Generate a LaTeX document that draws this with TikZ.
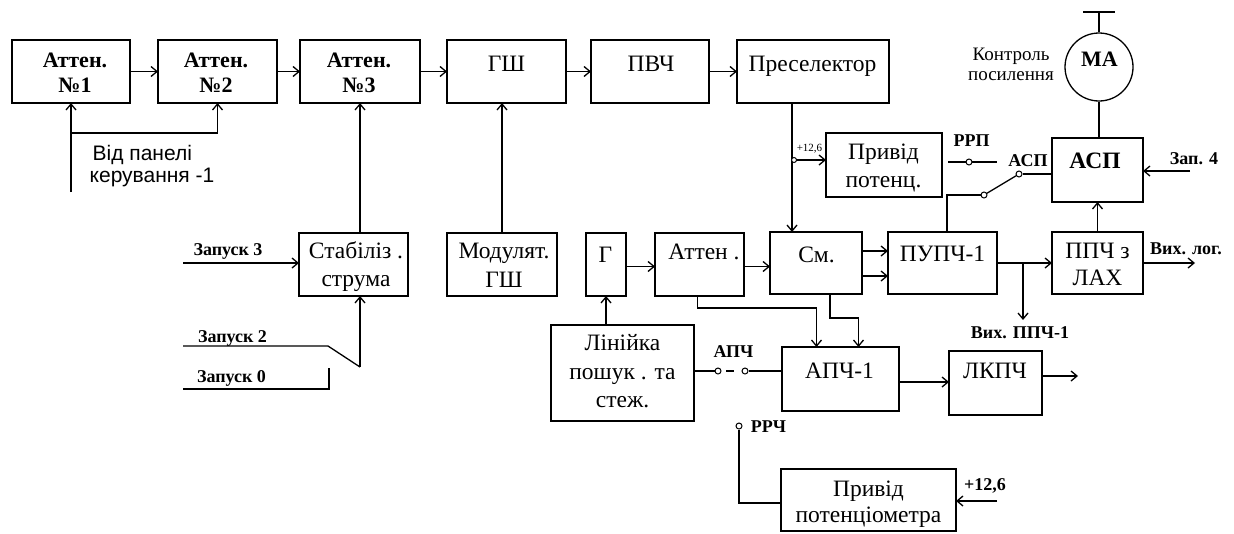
\documentclass[tikz,border=0pt]{standalone}
\usepackage{fontspec}
\setmainfont{Liberation Serif}
\newfontfamily\panelsans{Liberation Sans}
\usetikzlibrary{arrows.meta,calc}
\begin{document}
\begin{tikzpicture}[x=1pt,y=-1pt,line width=1.3pt,
  box/.style={draw,inner sep=0pt,outer sep=0pt},
  arr/.style={-{Straight Barb[length=6pt,width=10pt]}},
  contact/.style={circle,draw,fill=white,inner sep=0pt,minimum size=6pt,line width=1pt},
  rt/.style={inner sep=0pt,align=center,font=\fontsize{23.5}{28}\selectfont},
  bt/.style={inner sep=0pt,align=center,font=\bfseries\fontsize{22}{25}\selectfont},
  lab/.style={inner sep=0pt,anchor=base,font=\bfseries\fontsize{18}{20}\selectfont}]
\useasboundingbox (0,0) rectangle (1234,533);
\fill[white] (0,0) rectangle (1234,533);

% ---------- boxes ----------
\node[box,minimum width=118pt,minimum height=63pt] (a1) at (71,71.5) {};
\node[box,minimum width=119pt,minimum height=63pt] (a2) at (217.5,71.5) {};
\node[box,minimum width=120pt,minimum height=63pt] (a3) at (360,71.5) {};
\node[box,minimum width=119pt,minimum height=63pt] (gsh) at (506.5,71.5) {};
\node[box,minimum width=118pt,minimum height=63pt] (pvch) at (650,71.5) {};
\node[box,minimum width=152pt,minimum height=63pt] (pres) at (813,71.5) {};
\node[box,minimum width=109pt,minimum height=63pt] (stab) at (353.5,264.5) {};
\node[box,minimum width=110pt,minimum height=63pt] (mod) at (502,264.5) {};
\node[box,minimum width=40pt,minimum height=63pt] (g) at (606,264.5) {};
\node[box,minimum width=89pt,minimum height=63pt] (att) at (699.5,264.5) {};
\node[box,minimum width=92pt,minimum height=62pt] (sm) at (816,263) {};
\node[box,minimum width=109pt,minimum height=62pt] (pupch) at (942.5,263) {};
\node[box,minimum width=91pt,minimum height=62pt] (ppch) at (1097.5,263) {};
\node[box,minimum width=91pt,minimum height=64pt] (asp) at (1097.5,170) {};
\node[draw,circle,minimum size=68pt,inner sep=0pt] (ma) at (1099,67) {};
\node[box,minimum width=116pt,minimum height=64pt] (priv1) at (884,165) {};
\node[box,minimum width=143pt,minimum height=96pt] (lin) at (622.5,373) {};
\node[box,minimum width=117pt,minimum height=64pt] (apch) at (840.5,379) {};
\node[box,minimum width=93pt,minimum height=64pt] (lkpch) at (995.5,383) {};
\node[box,minimum width=175pt,minimum height=62pt] (priv2) at (868.5,500) {};

% ---------- box texts ----------
\node[bt] (a1t) at (75,73) {Аттен.\\№1};
\node[bt] (a2t) at (216,73) {Аттен.\\№2};
\node[bt] (a3t) at (359,73) {Аттен.\\№3};
\node[rt,anchor=base] (gsht) at (506.5,71) {ГШ};
\node[rt,anchor=base] (pvcht) at (651,71) {ПВЧ};
\node[rt,anchor=base] (prest) at (812.5,71) {Преселектор};
\node[rt,font=\fontsize{23.5}{28}\selectfont] (stabt) at (356,266.5) {Стабіліз .\\струма};
\node[rt,font=\fontsize{23.5}{29}\selectfont] (modt) at (504,265) {Модулят.\\ГШ};
\node[rt,anchor=base] (gt) at (605.5,262) {Г};
\node[rt,anchor=base] (attt) at (704,259) {Аттен .};
\node[rt,anchor=base] (smt) at (816.5,262) {См.};
\node[rt,anchor=base] (pupcht) at (942.5,261) {ПУПЧ-1};
\node[rt,font=\fontsize{23.5}{27}\selectfont] (ppcht) at (1097.5,264) {ППЧ з\\ЛАХ};
\node[rt,anchor=base,font=\bfseries\fontsize{23.5}{27}\selectfont] (aspt) at (1095,168) {АСП};
\node[rt,anchor=base,font=\bfseries\fontsize{22}{27}\selectfont] (mat) at (1099.5,66) {МА};
\node[rt,font=\fontsize{23.5}{28}\selectfont] (priv1t) at (883.5,167.5) {Привід\\потенц.};
\node[rt,font=\fontsize{23.5}{28.5}\selectfont] (lint) at (622.5,371.5) {Лінійка\\пошук . та\\стеж.};
\node[rt,anchor=base] (apcht) at (839.5,378) {АПЧ-1};
\node[rt,anchor=base] (lkpcht) at (995,378) {ЛКПЧ};
\node[rt,font=\fontsize{23.5}{26}\selectfont] (priv2t) at (868.5,504.5) {Привід\\потенціометра};

% ---------- free texts ----------
\node[inner sep=0pt,align=left,anchor=west,font=\panelsans\fontsize{21}{22}\selectfont] (panelt) at (89,166) {\hspace*{3pt}Від панелі\\керування -1};
\node[inner sep=0pt,align=center,font=\fontsize{19}{20}\selectfont] (kontt) at (1011,64) {Контроль\\посилення};
\node[lab] (z3t) at (228,255) {Запуск 3};
\node[lab] (z2t) at (232.5,342) {Запуск 2};
\node[lab] (z0t) at (231.5,382) {Запуск 0};
\node[lab] (rrpt) at (971.5,146) {РРП};
\node[lab] (asplt) at (1028,166) {АСП};
\node[lab] (z4t) at (1194,164) {Зап. 4};
\node[lab] (vlogt) at (1186,254) {Вих. лог.};
\node[lab] (vppcht) at (1020,338) {Вих. ППЧ-1};
\node[lab] (apchlt) at (733.5,357) {АПЧ};
\node[lab] (rrcht) at (768.5,432) {РРЧ};
\node[lab] (p126t) at (985,490) {+12,6};
\node[inner sep=0pt,anchor=base,font=\fontsize{11}{12}\selectfont] (s126t) at (809.5,151) {+12,6};

% ---------- top chain ----------
\draw[arr] (a1.east) -- (a2.west);
\draw[arr] (a2.east) -- (a3.west);
\draw[arr] (a3.east) -- (gsh.west);
\draw[arr] (gsh.east) -- (pvch.west);
\draw[arr] (pvch.east) -- (pres.west);

\coordinate (pan) at (71,192);
\coordinate (br) at (71,133);
\draw[arr] (pan) -- (a1.south);
\draw[arr] (br) -| (a2.south);

\draw[arr] (stab.north -| a3.south) -- (a3.south);
\draw[arr] (mod.north) -- (mod.north |- gsh.south);

% ---------- launch inputs ----------
\coordinate (z3) at (183,263);
\draw[arr] (z3) -- (z3 -| stab.west);
\coordinate (z2) at (183,346);
\coordinate (z2k) at (328,346);
\coordinate (sw) at (360,367);
\draw (z2) -- (z2k) -- (sw);
\draw[arr] (sw) -- (sw |- stab.south);
\coordinate (z0) at (183,389);
\coordinate (z0k) at (329,389);
\draw (z0) -- (z0k) -- ++(0,-21);

% ---------- preselector branch ----------
\coordinate (pd) at ($(pres.south)+(-21,0)$);
\draw[arr] (pd) -- (pd |- sm.north);
\coordinate (tap) at ($(pd)+(0,57)$);
\draw[arr] (tap) -- (tap -| priv1.west);
\node[contact,minimum size=5pt] (tapc) at ($(tap)+(2,0)$) {};

% ---------- RRP / ASP switch ----------
\coordinate (rrpA) at (948,162);
\coordinate (rrpB) at (997,162);
\draw (rrpA) -- (rrpB);
\node[contact] (rrpc) at (969,162) {};
\node[contact] (c1) at (1019,174) {};
\node[contact] (c2) at (984,195) {};
\draw (c1) -- (c1 -| asp.west);
\draw (c2) -- (c1);
\coordinate (pupn) at ($(pupch.north)+(4.5,0)$);
\draw (pupn) |- (c2);
\coordinate (z4) at (1190,171);
\draw[arr] (z4) -- (z4 -| asp.east);

% ---------- MA ----------
\coordinate (ant) at (1099,12);
\coordinate (antL) at (1083,12);
\coordinate (antR) at (1115,12);
\draw (ma.north) -- (ant);
\draw (antL) -- (antR);
\draw (ma.south) -- (ma.south |- asp.north);

% ---------- IF chain ----------
\draw[arr] (ppch.north) -- (asp.south);
\draw[arr] (pupch.east) -- (ppch.west);
\coordinate (vx) at (1023,320);
\draw[arr] (vx |- pupch.east) -- (vx);
\coordinate (vl) at (1195,263);
\draw[arr] (ppch.east) -- (vl);
\coordinate (sme1) at ($(sm.east)+(0,-12)$);
\coordinate (sme2) at ($(sm.east)+(0,13)$);
\draw[arr] (sme1) -- (sme1 -| pupch.west);
\draw[arr] (sme2) -- (sme2 -| pupch.west);
\coordinate (ge) at ($(g.east)+(0,2)$);
\draw[arr] (ge) -- (ge -| att.west);
\coordinate (ae) at ($(att.east)+(0,2)$);
\draw[arr] (ae) -- (ae -| sm.west);
\draw[arr] (lin.north -| g.south) -- (g.south);

% ---------- APCh switch ----------
\node[contact] (k1) at (718,371) {};
\node[contact] (k2) at (745,371) {};
\draw (lin.east |- k1) -- (k1);
\coordinate (kd1) at (726,371);
\coordinate (kd2) at (734,371);
\draw (kd1) -- (kd2);
\draw (k2) -- (k2 -| apch.west);

\coordinate (as) at ($(att.south)+(-2,0)$);
\coordinate (an1) at ($(apch.north)+(-24,0)$);
\draw[arr] (as) -- ++(0,12) -| (an1);
\coordinate (ss) at ($(sm.south)+(14,0)$);
\coordinate (an2) at ($(apch.north)+(18,0)$);
\draw[arr] (ss) -- ++(0,24) -| (an2);
\coordinate (ape) at ($(apch.east)+(0,3)$);
\draw[arr] (ape) -- (ape -| lkpch.west);
\coordinate (lke) at ($(lkpch.east)+(0,-7)$);
\coordinate (lko) at ($(lke)+(36,0)$);
\draw[arr] (lke) -- (lko);

% ---------- RRCh ----------
\node[contact] (rrc) at (739,426) {};
\coordinate (pw) at ($(priv2.west)+(0,3)$);
\draw (rrc.south) |- (pw);
\coordinate (p126) at (997,501);
\draw[arr] (p126) -- (p126 -| priv2.east);
\end{tikzpicture}
\end{document}
